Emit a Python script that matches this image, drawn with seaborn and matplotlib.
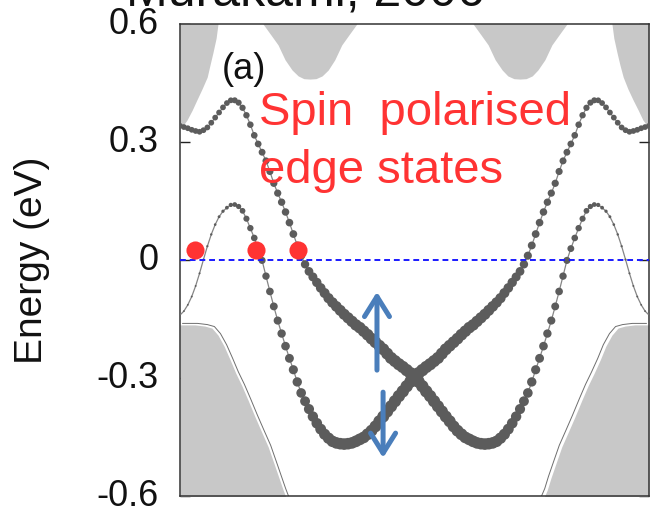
import numpy as np
import pandas as pd
import matplotlib
matplotlib.use("Agg")
import matplotlib.pyplot as plt
import matplotlib.transforms as mtransforms
import seaborn as sns

# ---------------------------------------------------------------- data ----
# Edge momentum (fraction of the 1D zone) on the tight-binding k grid
k_edge = np.linspace(0.0, 1.0, 121)

# Edge-state dispersions (eV) of the two spin species
e_up = [0.341, 0.338, 0.335, 0.331, 0.328, 0.326, 0.330, 0.337, 0.349, 0.362,
        0.375, 0.388, 0.399, 0.406, 0.406, 0.400, 0.387, 0.368, 0.344, 0.317,
        0.295, 0.274, 0.252, 0.225, 0.195, 0.170, 0.147, 0.122, 0.095, 0.066,
        0.037, 0.011, -0.011, -0.029, -0.043, -0.057, -0.071, -0.084, -0.097, -0.108,
        -0.118, -0.128, -0.138, -0.147, -0.156, -0.165, -0.172, -0.181, -0.190, -0.200,
        -0.209, -0.218, -0.227, -0.238, -0.249, -0.257, -0.265, -0.272, -0.280, -0.288,
        -0.296, -0.309, -0.321, -0.334, -0.346, -0.359, -0.372, -0.385, -0.398, -0.410,
        -0.423, -0.434, -0.443, -0.451, -0.456, -0.461, -0.465, -0.467, -0.468, -0.467,
        -0.465, -0.461, -0.453, -0.443, -0.430, -0.415, -0.398, -0.379, -0.359, -0.338,
        -0.310, -0.279, -0.250, -0.219, -0.187, -0.154, -0.118, -0.080, -0.041, -0.001,
        0.029, 0.056, 0.081, 0.105, 0.125, 0.136, 0.141, 0.140, 0.133, 0.124,
        0.110, 0.090, 0.065, 0.035, 0.001, -0.034, -0.066, -0.093, -0.114, -0.130,
        -0.140]
e_down = [-0.140, -0.130, -0.114, -0.093, -0.066, -0.034, 0.001, 0.035, 0.065, 0.090,
          0.110, 0.124, 0.133, 0.140, 0.141, 0.136, 0.125, 0.105, 0.081, 0.056,
          0.029, -0.001, -0.041, -0.080, -0.118, -0.154, -0.187, -0.219, -0.250, -0.279,
          -0.310, -0.338, -0.359, -0.379, -0.398, -0.415, -0.430, -0.443, -0.453, -0.461,
          -0.465, -0.467, -0.468, -0.467, -0.465, -0.461, -0.456, -0.451, -0.443, -0.434,
          -0.423, -0.410, -0.398, -0.385, -0.372, -0.359, -0.346, -0.334, -0.321, -0.309,
          -0.296, -0.288, -0.280, -0.272, -0.265, -0.257, -0.249, -0.238, -0.227, -0.218,
          -0.209, -0.200, -0.190, -0.181, -0.172, -0.165, -0.156, -0.147, -0.138, -0.128,
          -0.118, -0.108, -0.097, -0.084, -0.071, -0.057, -0.043, -0.029, -0.011, 0.011,
          0.037, 0.066, 0.095, 0.122, 0.147, 0.170, 0.195, 0.225, 0.252, 0.274,
          0.295, 0.317, 0.344, 0.368, 0.387, 0.400, 0.406, 0.406, 0.399, 0.388,
          0.375, 0.362, 0.349, 0.337, 0.330, 0.326, 0.328, 0.331, 0.335, 0.338,
          0.341]

# Edge localisation weight of every state (drawn as marker size)
w_up = [0.46, 0.46, 0.46, 0.46, 0.46, 0.46, 0.46, 0.46, 0.46, 0.46, 0.46, 0.46, 0.46, 0.46,
        0.48, 0.49, 0.50, 0.51, 0.52, 0.53, 0.54, 0.55, 0.56, 0.57, 0.58, 0.58, 0.59, 0.60,
        0.61, 0.62, 0.63,
        0.65, 0.67, 0.70, 0.72, 0.75, 0.77, 0.80, 0.82, 0.84, 0.86, 0.88, 0.89, 0.90, 0.91, 0.92,
        0.93, 0.93, 0.94, 0.94, 0.95, 0.95, 0.96, 0.96, 0.97, 0.97, 0.98, 0.98, 0.99, 0.99, 1.00,
        1.00, 0.99, 0.99, 0.98, 0.98, 0.97, 0.97, 0.96, 0.96, 0.95, 0.95, 0.95, 0.94, 0.94,
        0.94, 0.93, 0.93, 0.93, 0.93, 0.93,
        0.92, 0.91, 0.89, 0.87, 0.85, 0.83, 0.81, 0.79, 0.77, 0.75,
        0.73, 0.71, 0.69, 0.67, 0.65, 0.63, 0.61, 0.59, 0.57,
        0.55, 0.53, 0.51, 0.49, 0.46,
        0.42, 0.38, 0.34, 0.30,
        0.26, 0.23, 0.21, 0.19, 0.18, 0.17, 0.16, 0.15, 0.15, 0.14, 0.14, 0.14]
w_down = [0.14, 0.14, 0.14, 0.15, 0.15, 0.16, 0.17, 0.18, 0.19, 0.21, 0.23, 0.26,
          0.30, 0.34, 0.38, 0.42,
          0.46, 0.49, 0.51, 0.53, 0.55,
          0.57, 0.59, 0.61, 0.63, 0.65, 0.67, 0.69, 0.71, 0.73,
          0.75, 0.77, 0.79, 0.81, 0.83, 0.85, 0.87, 0.89, 0.91, 0.92,
          0.93, 0.93, 0.93, 0.93, 0.93, 0.94, 0.94, 0.94, 0.95, 0.95,
          0.95, 0.96, 0.96, 0.97, 0.97, 0.98, 0.98, 0.99, 0.99, 1.00,
          1.00, 0.99, 0.99, 0.98, 0.98, 0.97, 0.97, 0.96, 0.96, 0.95, 0.95, 0.94, 0.94, 0.93, 0.93,
          0.92, 0.91, 0.90, 0.89, 0.88, 0.86, 0.84, 0.82, 0.80, 0.77, 0.75, 0.72, 0.70, 0.67, 0.65,
          0.63, 0.62, 0.61, 0.60, 0.59, 0.58, 0.58, 0.57, 0.56, 0.55, 0.54, 0.53, 0.52,
          0.51, 0.50, 0.49, 0.48,
          0.46, 0.46, 0.46, 0.46, 0.46, 0.46, 0.46, 0.46, 0.46, 0.46, 0.46, 0.46, 0.46, 0.46]

# Projected bulk conduction band: lower edge of each lobe (eV)
cb1_k = [0.000, 0.004, 0.015, 0.026, 0.036, 0.047, 0.058, 0.064, 0.070, 0.077, 0.081, 0.085]
cb1_e = [0.338, 0.338, 0.356, 0.381, 0.407, 0.435, 0.465, 0.496, 0.526, 0.564, 0.600, 0.623]
cb2_k = [0.173, 0.177, 0.194, 0.209, 0.224, 0.239, 0.252, 0.264, 0.277, 0.290, 0.303,
         0.316, 0.330, 0.345, 0.360, 0.377, 0.381]
cb2_e = [0.620, 0.600, 0.572, 0.547, 0.509, 0.483, 0.468, 0.461, 0.460, 0.461, 0.468,
         0.483, 0.509, 0.547, 0.572, 0.600, 0.620]
cb3_k = [0.621, 0.625, 0.642, 0.657, 0.672, 0.687, 0.699, 0.712, 0.725, 0.738, 0.751,
         0.763, 0.778, 0.793, 0.808, 0.825, 0.829]
cb3_e = [0.620, 0.600, 0.572, 0.547, 0.509, 0.483, 0.468, 0.461, 0.460, 0.461, 0.468,
         0.483, 0.509, 0.547, 0.572, 0.600, 0.620]
cb4_k = [0.917, 0.921, 0.925, 0.932, 0.938, 0.945, 0.955, 0.966, 0.977, 0.987, 0.998, 1.000]
cb4_e = [0.623, 0.600, 0.564, 0.526, 0.496, 0.465, 0.435, 0.407, 0.381, 0.356, 0.338, 0.338]

# Projected bulk valence band: upper edge of each lobe (eV)
vb1_k = [0.000, 0.032, 0.053, 0.068, 0.081, 0.094, 0.107, 0.119, 0.132, 0.145, 0.160,
         0.175, 0.188, 0.200, 0.211, 0.220, 0.228]
vb1_e = [-0.165, -0.165, -0.168, -0.173, -0.191, -0.219, -0.254, -0.288, -0.320, -0.356, -0.399,
         -0.440, -0.475, -0.516, -0.554, -0.585, -0.610]
vb2_k = [0.774, 0.783, 0.791, 0.802, 0.814, 0.827, 0.842, 0.857, 0.870, 0.883, 0.896,
         0.908, 0.921, 0.934, 0.949, 0.970, 1.000]
vb2_e = [-0.610, -0.585, -0.554, -0.516, -0.475, -0.440, -0.399, -0.356, -0.320, -0.288, -0.254,
         -0.219, -0.191, -0.173, -0.168, -0.165, -0.165]

# Fermi-level crossings marked in red
fermi_k = [0.032, 0.162, 0.252]
fermi_e = [0.025, 0.025, 0.025]

# Spin-direction arrows: momentum, tail energy, head energy
arrow_k = [0.420, 0.433]
arrow_from = [-0.280, -0.336]
arrow_to = [-0.081, -0.503]

ytick_vals = [-0.6, -0.3, 0.0, 0.3, 0.6]
ytick_text = ["-0.6", "-0.3", "0", "0.3", "0.6"]

# --------------------------------------------------------------- style ----
sns.set_style("ticks")
plt.rcParams["font.family"] = ["Liberation Sans", "DejaVu Sans"]

fig = plt.figure(figsize=(6.54, 5.09), dpi=100)
ax = fig.add_axes([180 / 654, 13 / 509, 469 / 654, 472 / 509])

band_grey = "#c8c8c8"
for kk, ee in [(cb1_k, cb1_e), (cb2_k, cb2_e), (cb3_k, cb3_e), (cb4_k, cb4_e)]:
    ax.fill_between(kk, ee, 0.7, color=band_grey, lw=0, zorder=1)
for kk, ee in [(vb1_k, vb1_e), (vb2_k, vb2_e)]:
    ax.fill_between(kk, ee, -0.7, color=band_grey, lw=0, zorder=1)

# thin outline just outside the valence-band edge
off_l = mtransforms.offset_copy(ax.transData, fig=fig, x=2.5, y=1.5, units="dots")
off_r = mtransforms.offset_copy(ax.transData, fig=fig, x=-2.5, y=1.5, units="dots")
sns.lineplot(x=vb1_k, y=vb1_e, ax=ax, color="#6e6e6e", lw=0.7, transform=off_l, zorder=2)
sns.lineplot(x=vb2_k, y=vb2_e, ax=ax, color="#6e6e6e", lw=0.7, transform=off_r, zorder=2)

# edge states
n = len(k_edge)
df = pd.DataFrame({
    "k": np.concatenate([k_edge, k_edge]),
    "E": e_up + e_down,
    "w": w_up + w_down,
    "spin": ["up"] * n + ["down"] * n,
})
df["area"] = df["w"] ** 2
for spin, sub in df.groupby("spin"):
    sns.lineplot(data=sub, x="k", y="E", ax=ax, color="#858585", lw=0.9,
                 sort=False, zorder=3)
sns.scatterplot(data=df, x="k", y="E", size="area", sizes=(0, 81), size_norm=(0, 1),
                color="#5c5c5c", linewidth=0, legend=False, ax=ax, zorder=4)

# Fermi level
ax.axhline(0.0, color="#1a1aff", lw=1.4, ls=(0, (3, 2)), zorder=5)

# Fermi crossings
sns.scatterplot(x=fermi_k, y=fermi_e, color="#ff3333", s=170, linewidth=0,
                legend=False, ax=ax, zorder=6)

# spin arrows
for kx, e0, e1 in zip(arrow_k, arrow_from, arrow_to):
    ax.annotate("", xy=(kx, e1), xytext=(kx, e0),
                arrowprops=dict(arrowstyle="->,head_length=0.72,head_width=0.45",
                                lw=3.6, color="#4a7ebb", shrinkA=0, shrinkB=0,
                                mutation_scale=20),
                zorder=7)

# annotations
ax.text(0.0896, 0.460, "(a)", fontsize=26, color="#111111", ha="left", va="baseline", zorder=8)
ax.text(0.168, 0.343, "Spin  polarised", fontsize=34, color="#ff3333",
        ha="left", va="baseline", zorder=8)
ax.text(0.168, 0.196, "edge states", fontsize=34, color="#ff3333",
        ha="left", va="baseline", zorder=8)
fig.text(305 / 654, 1 - 6 / 509, "Murakami, 2006", fontsize=36, color="#111111",
         ha="center", va="baseline")

# axes
ax.set_xlim(0, 1)
ax.set_ylim(-0.6, 0.6)
ax.set_xticks([])
ax.set_yticks(ytick_vals)
ax.set_yticklabels(ytick_text)
ax.tick_params(axis="y", direction="in", length=7, width=1.0, color="#222222",
               left=True, right=True, labelsize=26, pad=15.5, labelcolor="#111111")
for lbl in ax.get_yticklabels():
    lbl.set_verticalalignment("center")
for sp in ax.spines.values():
    sp.set_color("#333333")
    sp.set_linewidth(1.1)
ax.set_xlabel("")
ax.set_ylabel("Energy (eV)", fontsize=28, color="#111111")
ax.yaxis.set_label_coords(-0.277, 0.5)

fig.savefig("out.png", dpi=100)
